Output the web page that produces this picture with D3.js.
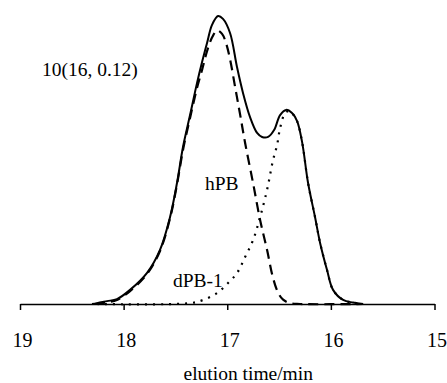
<!DOCTYPE html>
<html>
<head>
<meta charset="utf-8">
<script src="https://cdn.jsdelivr.net/npm/d3@7"></script>
<style>
  html, body { margin: 0; padding: 0; background: #fff; }
  svg { display: block; }
  text { font-family: "Liberation Serif", "Times New Roman", serif; fill: #000; }
</style>
</head>
<body>
<svg id="chart" width="447" height="383"></svg>
<script>
// ---- data (elution time in min, relative intensity) ----
const xTicks = [19, 18, 17, 16, 15];
const xTitle = "elution time/min";
const sampleLabel = "10(16, 0.12)";
const seriesNames = ["total", "hPB", "dPB-1"];

const totalTime = [18.305, 18.257, 18.160, 18.064, 17.938, 17.774, 17.649, 17.552, 17.485, 17.427, 17.359, 17.292, 17.243, 17.195, 17.147, 17.089, 17.041, 16.973, 16.906, 16.848, 16.780, 16.712, 16.664, 16.606, 16.548, 16.490, 16.432, 16.375, 16.326, 16.278, 16.220, 16.153, 16.104, 16.037, 15.979, 15.882, 15.786, 15.689];
const totalValue = [0, 0.003, 0.010, 0.017, 0.049, 0.108, 0.188, 0.302, 0.420, 0.545, 0.656, 0.767, 0.840, 0.906, 0.969, 1.000, 0.990, 0.941, 0.823, 0.733, 0.649, 0.594, 0.580, 0.580, 0.604, 0.656, 0.674, 0.663, 0.635, 0.563, 0.420, 0.302, 0.212, 0.118, 0.049, 0.014, 0.005, 0];

const hpbTime = [18.276, 18.160, 18.064, 17.938, 17.774, 17.649, 17.552, 17.485, 17.427, 17.359, 17.292, 17.243, 17.195, 17.147, 17.098, 17.050, 17.012, 16.973, 16.925, 16.877, 16.828, 16.751, 16.683, 16.616, 16.558, 16.510, 16.461, 16.394, 16.297, 15.689];
const hpbValue = [0, 0.006, 0.014, 0.045, 0.104, 0.184, 0.298, 0.415, 0.535, 0.646, 0.750, 0.813, 0.878, 0.925, 0.950, 0.938, 0.906, 0.850, 0.755, 0.660, 0.560, 0.420, 0.292, 0.188, 0.090, 0.040, 0.015, 0.003, 0, 0];

const dpbTime = [18.257, 17.359, 17.234, 17.098, 16.992, 16.905, 16.828, 16.751, 16.683, 16.616, 16.558, 16.519, 16.490, 16.442, 16.404, 16.375, 16.326, 16.278, 16.220, 16.153, 16.104, 16.037, 15.979, 15.882, 15.786, 15.689];
const dpbValue = [0, 0.003, 0.014, 0.038, 0.073, 0.108, 0.163, 0.222, 0.302, 0.396, 0.500, 0.552, 0.611, 0.663, 0.670, 0.663, 0.635, 0.563, 0.420, 0.302, 0.212, 0.118, 0.049, 0.014, 0.005, 0];

// ---- drawing ----
const svg = d3.select("#chart");
const x = d3.scaleLinear().domain([19, 15]).range([20, 434.5]);
const y = d3.scaleLinear().domain([0, 1]).range([304, 16]);

const zip = (t, v) => t.map((d, i) => [d, v[i]]);
const line = d3.line().x(d => x(d[0])).y(d => y(d[1])).curve(d3.curveCatmullRom.alpha(0.5));

const g = svg.append("g");
// dotted dPB-1
g.append("path").datum(zip(dpbTime, dpbValue))
  .attr("d", line).attr("fill", "none").attr("stroke", "#000")
  .attr("stroke-width", 2.2).attr("stroke-dasharray", "2,6");
// dashed hPB
g.append("path").datum(zip(hpbTime, hpbValue))
  .attr("d", line).attr("fill", "none").attr("stroke", "#000")
  .attr("stroke-width", 2.2).attr("stroke-dasharray", "10,6");
// solid total
g.append("path").datum(zip(totalTime, totalValue))
  .attr("d", line).attr("fill", "none").attr("stroke", "#000")
  .attr("stroke-width", 2);

// axis
const axis = d3.axisBottom(x).tickValues(xTicks).tickFormat(d3.format("d"))
  .tickSizeInner(6).tickSizeOuter(0).tickPadding(23);
const ax = svg.append("g").attr("transform", "translate(0,304)").call(axis);
ax.select(".domain").attr("stroke", "#000").attr("stroke-width", 1.5);
ax.selectAll(".tick line").attr("stroke", "#000").attr("stroke-width", 1.5);
ax.selectAll(".tick text").attr("font-size", 20).attr("font-family", "Liberation Serif").attr("dx", 2);

svg.append("text").attr("x", (x(19) + x(15)) / 2 + 21).attr("y", 380)
  .attr("text-anchor", "middle").attr("font-size", 19.5).text(xTitle);

svg.append("text").attr("x", 42).attr("y", 76).attr("font-size", 19.5).text(sampleLabel);
svg.append("text").attr("x", 205).attr("y", 190).attr("font-size", 19.5).text(seriesNames[1]);
svg.append("text").attr("x", 173).attr("y", 287).attr("font-size", 19.5).text(seriesNames[2]);
</script>
</body>
</html>
